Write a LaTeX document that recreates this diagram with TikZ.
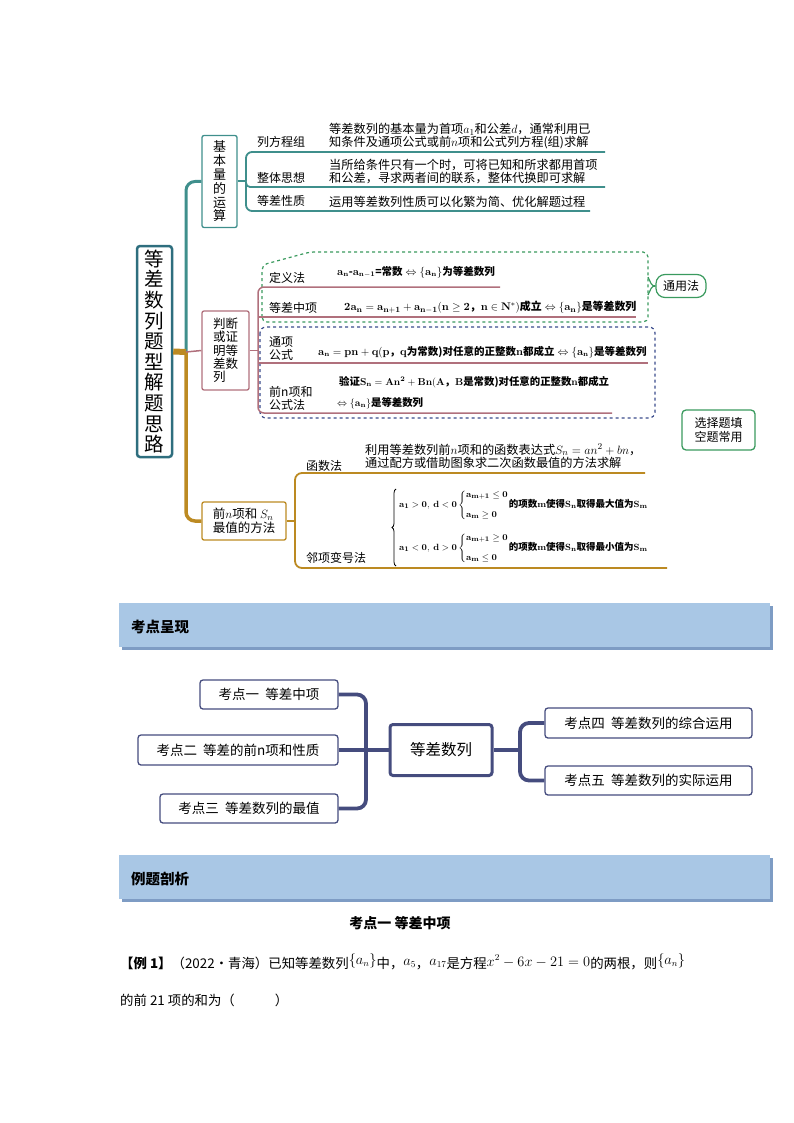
\documentclass[tikz,border=0pt]{standalone}
\usepackage[no-math]{fontspec}
\usepackage{amsmath,amssymb}
\setmainfont{Noto Sans CJK SC}
\usetikzlibrary{calc,decorations.pathreplacing}
\definecolor{teal1}{HTML}{3F8F8C}
\definecolor{tealdk}{HTML}{2E6E7E}
\definecolor{rose}{HTML}{B0707C}
\definecolor{gold}{HTML}{BC8A22}
\definecolor{gdash}{HTML}{3A9A5E}
\definecolor{bdash}{HTML}{3B4C8C}
\definecolor{slate}{HTML}{454C7E}
\definecolor{band}{HTML}{A9C7E5}
\definecolor{bandsh}{HTML}{7E9CC4}
\tikzset{
  lbl/.style={anchor=base west, inner sep=0pt, font=\fontsize{12}{14}\selectfont},
  desc/.style={anchor=west, inner sep=0pt, align=left, font=\fontsize{12.2}{13}\selectfont},
  fml/.style={anchor=west, inner sep=0pt, font=\fontsize{10.4}{11}\selectfont\bfseries},
  kbox/.style={draw=slate, line width=1.3, rounded corners=3, fill=white, inner sep=0pt, font=\fontsize{13.5}{15}\selectfont},
  conn/.style={draw=slate, line width=3.8, rounded corners=9},
  bandtext/.style={anchor=west, inner sep=0pt, font=\fontsize{14.5}{16}\selectfont\bfseries},
}
\begin{document}
\begin{tikzpicture}[x=1pt,y=-1pt]
\useasboundingbox (0,0) rectangle (794,1123);

% ---------------- top mind map ----------------
\node[draw=tealdk, line width=2.5, rounded corners=3, minimum width=35, minimum height=211, align=center, inner sep=0pt, font=\fontsize{19.5}{20.6}\selectfont] (main) at (154.5,351.5) {等\\差\\数\\列\\题\\型\\解\\题\\思\\路};

\node[draw=teal1, line width=1.3, rounded corners=2, minimum width=35, minimum height=92, align=center, inner sep=0pt, font=\fontsize{13}{13.8}\selectfont] (b1) at (219.5,181.5) {基\\本\\量\\的\\运\\算};
\node[draw=rose, line width=1.3, rounded corners=2, minimum width=47, minimum height=79, align=left, inner sep=0pt, font=\fontsize{12.5}{13.3}\selectfont] (b2) at (225.5,350.5) {判断\\或证\\明等\\差数\\列};
\node[draw=gold, line width=1.3, rounded corners=2, minimum width=84, minimum height=38, align=left, inner sep=0pt, font=\fontsize{12.5}{14}\selectfont] (b3) at (244,521) {前$n$项和 $S_n$\\最值的方法};

\coordinate (j) at (186,352);
\draw[teal1, line width=3, rounded corners=9] (j) |- (b1.west);
\draw[gold, line width=3.5, rounded corners=9] (j) |- (b3.west);
\draw[gold, line width=6] (main.east) -- (j);
\draw[rose, line width=1.5] (j) -- (b2.west);

% teal branch
\coordinate (tb) at (246,181.5);
\coordinate (t1) at (605,152);
\coordinate (t2) at (605,187);
\coordinate (t3) at (590,211);
\draw[teal1, line width=2] (b1.east) -- (tb);
\draw[teal1, line width=1.8, rounded corners=6] (tb) |- (t1);
\draw[teal1, line width=1.8, rounded corners=4] (tb) |- (t2);
\draw[teal1, line width=1.8, rounded corners=6] (tb) |- (t3);
\node[lbl] (l1) at (257,147) {列方程组};
\node[lbl] (l2) at (257,183) {整体思想};
\node[lbl] (l3) at (257,206) {等差性质};
\node[desc] (d1) at (329,136.5) {等差数列的基本量为首项$a_1$和公差$d$，通常利用已\\知条件及通项公式或前$n$项和公式列方程(组)求解};
\node[desc] (d2) at (329,171.5) {当所给条件只有一个时，可将已知和所求都用首项\\和公差，寻求两者间的联系，整体代换即可求解};
\node[desc] (d3) at (329,202) {运用等差数列性质可以化繁为简、优化解题过程};

% dashed regions
\draw[gdash, dashed, line width=1.2, rounded corners=5] (262,322) -- (262,265) -- (310,252) -- (648,252) -- (648,322) -- cycle;
\draw[bdash, dashed, line width=1.2, rounded corners=6] (260,327) rectangle (655,418);
\node[draw=gdash, line width=1.2, rounded corners=9, minimum width=50, minimum height=23, inner sep=0pt, font=\fontsize{12}{14}\selectfont] (ty) at (681,286) {通用法};
\coordinate (gb1) at (648,277);
\coordinate (gb2) at (648,295);
\draw[gdash, line width=1.2] (gb1) .. controls (651,283) and (651,286) .. (ty.west);
\draw[gdash, line width=1.2] (gb2) .. controls (651,289) and (651,286) .. (ty.west);
\node[draw=gdash, line width=1.3, rounded corners=4, minimum width=73, minimum height=40, align=center, inner sep=0pt, font=\fontsize{12}{14}\selectfont] (xz) at (718.5,430) {选择题填\\空题常用};

% red branch
\coordinate (rb) at (258,350.5);
\coordinate (r1) at (500,287);
\coordinate (r2) at (636,317);
\coordinate (r3) at (648,363);
\coordinate (r4) at (612,413);
\draw[rose, line width=1.5] (b2.east) -- (rb);
\draw[rose, line width=1.5, rounded corners=6] (r1) -| (rb) |- (r4);
\draw[rose, line width=1.5] (rb |- r2) -- (r2);
\draw[rose, line width=1.5] (rb |- r3) -- (r3);
\node[lbl] (m1) at (269,282) {定义法};
\node[lbl] (m2) at (269,312) {等差中项};
\node[lbl, anchor=west, align=left, font=\fontsize{12}{13.5}\selectfont] (m3) at (269,348.5) {通项\\公式};
\node[lbl, anchor=west, align=left, font=\fontsize{12}{13.5}\selectfont] (m4) at (269,398.5) {前n项和\\公式法};
\node[fml, font=\fontsize{10.5}{11}\selectfont\bfseries] (f1) at (337,272) {$\mathbf{a_n}$-$\mathbf{a_{n-1}}$=常数$\;\Leftrightarrow\{\mathbf{a_n}\}$为等差数列};
\node[fml, font=\fontsize{10.9}{13}\selectfont\bfseries] (f2) at (344,307) {$\mathbf{2a_n=a_{n+1}+a_{n-1}(n\geq 2}$，$\mathbf{n\in N^*)}$成立$\;\Leftrightarrow\{\mathbf{a_n}\}$是等差数列};
\node[fml, font=\fontsize{10.5}{11}\selectfont\bfseries] (f3) at (318,352) {$\mathbf{a_n=pn+q(p}$，$\mathbf{q}$为常数)对任意的正整数$\mathbf{n}$都成立$\;\Leftrightarrow\{\mathbf{a_n}\}$是等差数列};
\node[fml] (f4) at (339,382) {验证$\mathbf{S_n=An^2+Bn(A}$，$\mathbf{B}$是常数)对任意的正整数$\mathbf{n}$都成立};
\node[fml] (f5) at (337,403) {$\Leftrightarrow\{\mathbf{a_n}\}$是等差数列};

% gold branch
\coordinate (gb) at (295,521);
\coordinate (g1) at (645,473);
\coordinate (g2) at (667,568);
\draw[gold, line width=1.8] (b3.east) -- (gb);
\draw[gold, line width=1.8, rounded corners=7] (g1) -| (gb) |- (g2);
\node[lbl] (n1) at (306,470) {函数法};
\node[lbl] (n2) at (306,562) {邻项变号法};
\node[desc] (d4) at (365,456) {利用等差数列前$n$项和的函数表达式$S_n = an^2 + bn$，\\通过配方或借助图象求二次函数最值的方法求解};
\coordinate (cb1) at (396,489);
\coordinate (cb2) at (396,566);
\draw[line width=0.8, decorate, decoration={brace, amplitude=4pt}] (cb2) -- (cb1);
\node[fml, font=\fontsize{9.5}{11}\selectfont\bfseries] (cs1) at (399,505) {$\mathbf{a_1>0,\ d<0}\left\{\begin{array}{@{}l@{}}\mathbf{a_{m+1}\le 0}\\[9pt] \mathbf{a_m\ge 0}\end{array}\right.$的项数$\mathbf{m}$使得$\mathbf{S_n}$取得最大值为$\mathbf{S_m}$};
\node[fml, font=\fontsize{9.5}{11}\selectfont\bfseries] (cs2) at (399,548) {$\mathbf{a_1<0,\ d>0}\left\{\begin{array}{@{}l@{}}\mathbf{a_{m+1}\ge 0}\\[9pt] \mathbf{a_m\le 0}\end{array}\right.$的项数$\mathbf{m}$使得$\mathbf{S_n}$取得最小值为$\mathbf{S_m}$};

% ---------------- band 1 ----------------
\fill[bandsh] (122,606) rectangle (773,650);
\fill[band] (119,603) rectangle (770,647);
\node[bandtext] (h1) at (131,627) {考点呈现};

% ---------------- middle map ----------------
\node[kbox, minimum width=138, minimum height=29] (k1) at (269,694.5) {考点一\ \ 等差中项};
\node[kbox, minimum width=200, minimum height=30] (k2) at (238,750) {考点二\ \ 等差的前n项和性质};
\node[kbox, minimum width=178, minimum height=29] (k3) at (249,808.5) {考点三\ \ 等差数列的最值};
\node[draw=slate, line width=3, rounded corners=3, minimum width=102, minimum height=51, inner sep=0pt, font=\fontsize{15.5}{17}\selectfont] (c) at (441,750) {等差数列};
\node[kbox, minimum width=207, minimum height=30] (k4) at (648.5,723) {考点四\ \ 等差数列的综合运用};
\node[kbox, minimum width=207, minimum height=29] (k5) at (648.5,780.5) {考点五\ \ 等差数列的实际运用};
\coordinate (lv) at (366,750);
\coordinate (rv) at (520,750);
\draw[conn] (k1.east) -| (lv) |- (k3.east);
\draw[conn] (k2.east) -- (c.west);
\draw[conn] (k4.west) -| (rv) |- (k5.west);
\draw[conn] (c.east) -- (rv);

% ---------------- band 2 ----------------
\fill[bandsh] (122,858) rectangle (773,902);
\fill[band] (119,855) rectangle (770,899);
\node[bandtext] (h2) at (131,879) {例题剖析};

% ---------------- example ----------------
\node[inner sep=0pt, font=\fontsize{14}{16}\selectfont\bfseries] (h3) at (400,923) {考点一\ 等差中项};
\node[anchor=base west, inner sep=0pt, font=\fontsize{13.4}{15}\selectfont] (ex1) at (120,968) {{\bfseries 【例 1】}（2022·青海）已知等差数列\raisebox{4pt}{$\{a_n\}$}中，\raisebox{3pt}{$a_5$}，\raisebox{3pt}{$a_{17}$}是方程\raisebox{2pt}{$x^2-6x-21=0$}的两根，则\raisebox{4pt}{$\{a_n\}$}};
\node[anchor=base west, inner sep=0pt, font=\fontsize{13.4}{15}\selectfont] (ex2) at (120,1005) {的前 21 项的和为（\hspace{40pt}）};
\end{tikzpicture}
\end{document}
